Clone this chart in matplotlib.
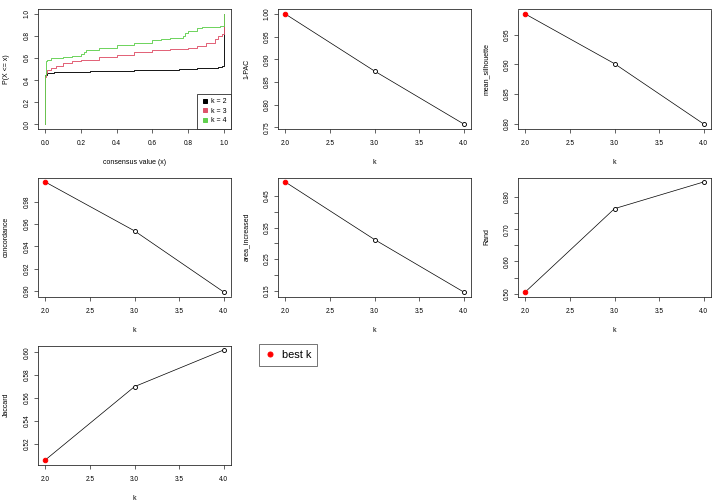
import numpy as np
import matplotlib
matplotlib.use("Agg")
import matplotlib.pyplot as plt
from matplotlib.lines import Line2D

plt.rcParams['font.family'] = ['Liberation Sans', 'DejaVu Sans']

# --- ECDF of consensus values ---
ecdf_x_k2 = [0.0, 0.0, 0.01, 0.05, 0.1, 0.25, 0.5, 0.75, 0.85, 0.97, 0.99, 1.0]
ecdf_y_k2 = [0.0, 0.45, 0.46, 0.47, 0.475, 0.48, 0.49, 0.50, 0.51, 0.52, 0.53, 1.0]
ecdf_x_k3 = [0.0, 0.0, 0.005, 0.01, 0.03, 0.06, 0.1, 0.15, 0.2, 0.3, 0.4, 0.5,
             0.6, 0.7, 0.8, 0.85, 0.9, 0.95, 0.97, 0.99, 1.0]
ecdf_y_k3 = [0.0, 0.43, 0.46, 0.49, 0.51, 0.53, 0.55, 0.57, 0.585, 0.605, 0.63, 0.65,
             0.67, 0.68, 0.69, 0.71, 0.74, 0.77, 0.80, 0.82, 1.0]
ecdf_x_k4 = [0.0, 0.0, 0.003, 0.01, 0.03, 0.1, 0.15, 0.2, 0.22, 0.23, 0.3, 0.4, 0.5,
             0.6, 0.65, 0.7, 0.77, 0.78, 0.8, 0.85, 0.88, 0.98, 1.0]
ecdf_y_k4 = [0.0, 0.45, 0.57, 0.58, 0.60, 0.61, 0.62, 0.64, 0.65, 0.67, 0.69, 0.72, 0.74,
             0.76, 0.77, 0.78, 0.80, 0.83, 0.845, 0.87, 0.88, 0.89, 1.0]

# --- metrics by k ---
k_values = [2, 3, 4]
best_k = 2
pac_1 = [1.000, 0.874, 0.757]
mean_silhouette = [0.985, 0.901, 0.799]
concordance = [0.998, 0.954, 0.899]
area_increased = [0.494, 0.312, 0.146]
rand = [0.505, 0.764, 0.847]
jaccard = [0.506, 0.570, 0.602]

col_k = {2: 'black', 3: '#DF536B', 4: '#61D04F'}

W, H = 720, 504
fig = plt.figure(figsize=(W / 72, H / 72), dpi=72)

FS = 6.5   # tick labels
LFS = 7    # axis labels, legend


def make_axes(col, row):
    left = col * 240 + 38
    top = row * 168 + 9.5
    ax = fig.add_axes([left / W, 1 - (top + 119) / H, 193 / W, 119 / H])
    for s in ax.spines.values():
        s.set_linewidth(0.8)
        s.set_color('#222222')
    ax.tick_params(direction='out', length=4, width=0.6, labelsize=FS, pad=3)
    ax.tick_params(axis='x', pad=7.5)
    return ax


def finish(ax, ylab, xlab='k'):
    ax.set_xlabel(xlab, fontsize=LFS)
    ax.set_ylabel(ylab, fontsize=LFS)
    ax.xaxis.set_label_coords(0.5, -0.26)
    ax.yaxis.set_label_coords(-0.145, 0.5)
    plt.setp(ax.get_yticklabels(), rotation=90, va='center')


def padlim(lo, hi):
    d = (hi - lo) * 0.04
    return lo - d, hi + d


# panel 1: ECDF
ax = make_axes(0, 0)
for k, xs, ys in [(2, ecdf_x_k2, ecdf_y_k2), (3, ecdf_x_k3, ecdf_y_k3), (4, ecdf_x_k4, ecdf_y_k4)]:
    ax.step(xs, ys, where='post', color=col_k[k], lw=0.9)
ax.set_xlim(-0.04, 1.04)
ax.set_ylim(-0.04, 1.04)
ax.set_xticks(np.arange(0, 1.01, 0.2))
ax.set_yticks(np.arange(0, 1.01, 0.2))
ax.set_xticklabels(['%.1f' % v for v in np.arange(0, 1.01, 0.2)])
ax.set_yticklabels(['%.1f' % v for v in np.arange(0, 1.01, 0.2)])
handles = [Line2D([], [], ls='none', marker='s', ms=3.5, color=col_k[k]) for k in k_values]
leg = ax.legend(handles, ['k = %d' % k for k in k_values], loc='lower right', fontsize=LFS,
                borderaxespad=0, fancybox=False, framealpha=1, edgecolor='#222222',
                handlelength=0.9, handletextpad=0.5, labelspacing=0.35, borderpad=0.6)
leg.get_frame().set_linewidth(0.8)
finish(ax, 'P(X <= x)', 'consensus value (x)')


def metric_panel(col, row, vals, ylab, ticks, labelled):
    ax = make_axes(col, row)
    ax.plot(k_values, vals, color='black', lw=0.7, zorder=1)
    for k, v in zip(k_values, vals):
        if k == best_k:
            ax.plot(k, v, 'o', color='red', ms=4.5, mec='red', zorder=3)
        else:
            ax.plot(k, v, 'o', mfc='white', mec='black', mew=0.9, ms=4, zorder=3)
    ax.set_xlim(1.92, 4.08)
    ax.set_ylim(*padlim(min(vals), max(vals)))
    ax.set_xticks([2.0, 2.5, 3.0, 3.5, 4.0])
    ax.set_xticklabels(['2.0', '2.5', '3.0', '3.5', '4.0'])
    ax.set_yticks(ticks)
    ax.set_yticklabels(['%.2f' % t if t in labelled else '' for t in ticks])
    finish(ax, ylab)
    return ax


t = [0.75, 0.80, 0.85, 0.90, 0.95, 1.00]
metric_panel(1, 0, pac_1, '1-PAC', t, t)
t = [0.80, 0.85, 0.90, 0.95]
metric_panel(2, 0, mean_silhouette, 'mean_silhouette', t, t)
t = [0.90, 0.92, 0.94, 0.96, 0.98]
metric_panel(0, 1, concordance, 'concordance', t, t)
t = [0.15, 0.20, 0.25, 0.30, 0.35, 0.40, 0.45]
metric_panel(1, 1, area_increased, 'area_increased', t, [0.15, 0.25, 0.35, 0.45])
t = [0.50, 0.55, 0.60, 0.65, 0.70, 0.75, 0.80]
metric_panel(2, 1, rand, 'Rand', t, [0.50, 0.60, 0.70, 0.80])
t = [0.52, 0.54, 0.56, 0.58, 0.60]
metric_panel(0, 2, jaccard, 'Jaccard', t, t)

# best k legend
h = Line2D([], [], ls='none', marker='o', ms=5, color='red')
leg2 = fig.legend([h], ['best k'], loc='upper left', bbox_to_anchor=(259 / W, 1 - 344 / H),
                  fontsize=11, fancybox=False, framealpha=1, edgecolor='#555555',
                  borderaxespad=0, handlelength=0.9, handletextpad=0.6, borderpad=0.55)
leg2.get_frame().set_linewidth(0.8)

fig.savefig('out.png', dpi=72)
